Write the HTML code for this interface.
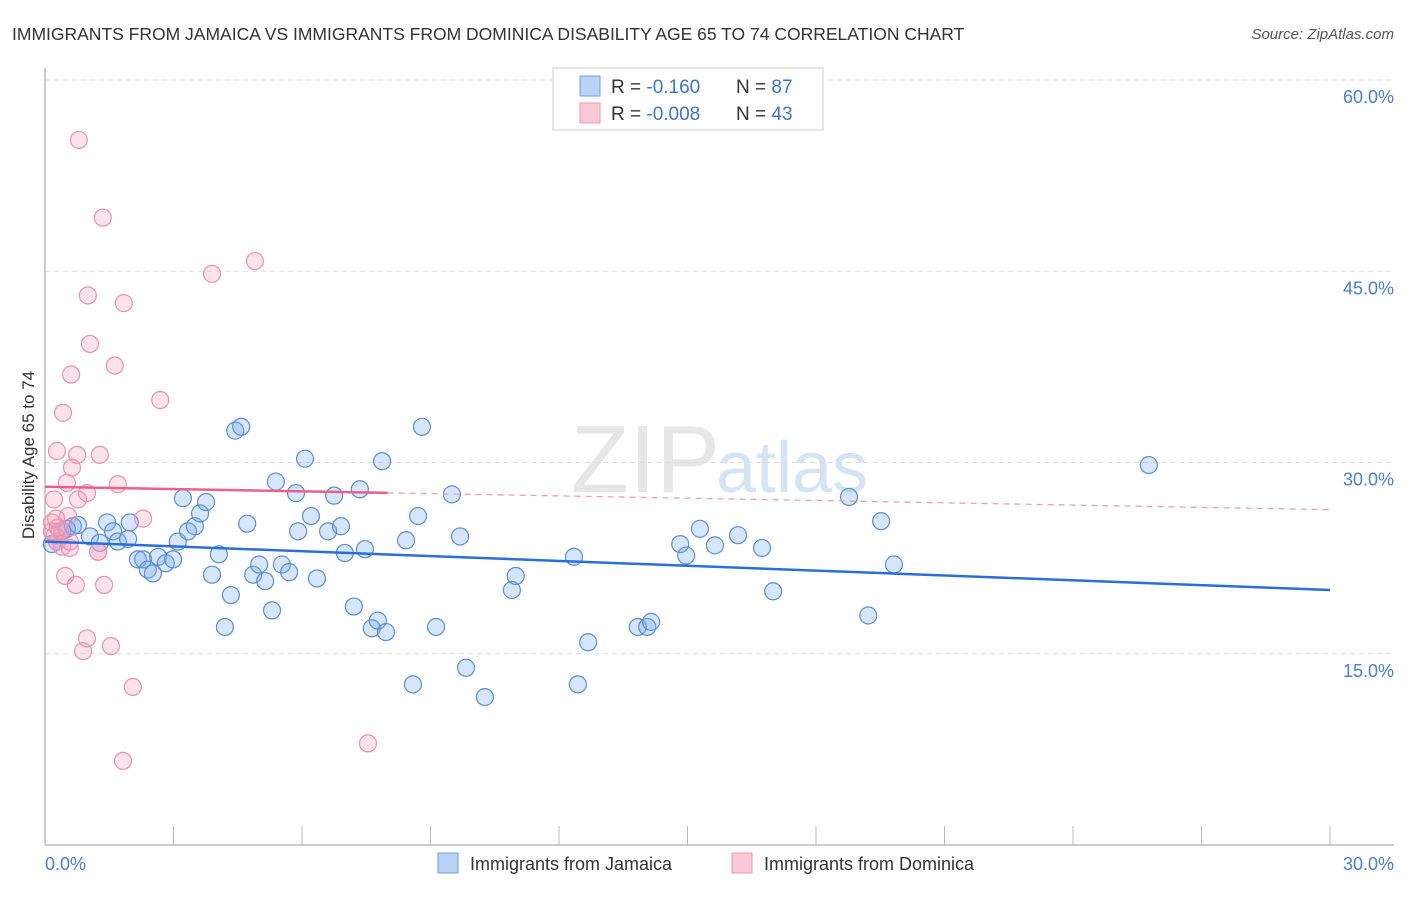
<!DOCTYPE html>
<html><head><meta charset="utf-8"><style>
body{margin:0;background:#fff;font-family:"Liberation Sans",sans-serif;}
svg text{font-family:"Liberation Sans",sans-serif;}
</style></head><body>
<svg id="chart" width="1406" height="892" xmlns="http://www.w3.org/2000/svg">
<text x="12" y="40" font-size="17.5" fill="#333">IMMIGRANTS FROM JAMAICA VS IMMIGRANTS FROM DOMINICA DISABILITY AGE 65 TO 74 CORRELATION CHART</text>
<text x="1394" y="39" font-size="15" fill="#555" font-style="italic" text-anchor="end">Source: ZipAtlas.com</text>
<text x="720" y="492" font-size="96" fill="#e6e6e6" text-anchor="end" font-family="Liberation Serif">ZIP</text>
<text x="716" y="492" font-size="72" fill="#d6e3f3">atlas</text>
<g id="grid"></g>
<line x1="45" y1="68" x2="45" y2="845" stroke="#bbb" stroke-width="1.5"/>
<line x1="45" y1="845" x2="1394" y2="845" stroke="#bbb" stroke-width="1.5"/>
<g id="xticks"></g>
<text transform="translate(34,455) rotate(-90)" font-size="17" fill="#333" text-anchor="middle">Disability Age 65 to 74</text>
<text x="45" y="870" font-size="18" fill="#4a7fd4">0.0%</text>
<text x="1394" y="870" font-size="18" fill="#4a7fd4" text-anchor="end">30.0%</text>
<g id="pts"></g>
<g id="trends"></g>
<g>
<rect x="553" y="68" width="270" height="62" fill="#fff" stroke="#ccc"/>
<rect x="580" y="76" width="20" height="20" fill="#b8d3f5" stroke="#6e9ee0"/>
<rect x="580" y="103" width="20" height="20" fill="#fbc8d8" stroke="#ec9ab5"/>
<text x="611" y="93" font-size="19" fill="#333">R = <tspan fill="#3f73cc"> -0.160</tspan><tspan x="736">N = </tspan><tspan fill="#3f73cc">87</tspan></text>
<text x="611" y="120" font-size="19" fill="#333">R = <tspan fill="#3f73cc">-0.008</tspan><tspan x="736">N = </tspan><tspan fill="#3f73cc">43</tspan></text>
</g>
<g>
<rect x="438" y="853" width="20" height="20" fill="#b8d3f5" stroke="#6e9ee0"/>
<text x="470" y="870" font-size="18" fill="#333">Immigrants from Jamaica</text>
<rect x="732" y="853" width="20" height="20" fill="#fbc8d8" stroke="#ec9ab5"/>
<text x="764" y="870" font-size="18" fill="#333">Immigrants from Dominica</text>
</g>
</svg>
<script>
const yTicks=[15,30,45,60];
const xTickVals=[0,3,6,9,12,15,18,21,24,27,30];
const jamX=[0.16,0.28,0.4,0.51,0.65,0.77,1.05,1.28,1.45,1.59,1.7,1.94,1.98,2.17,2.29,2.4,2.52,2.64,2.82,2.99,3.1,3.22,3.34,3.5,3.62,3.76,3.9,4.06,4.2,4.34,4.44,4.58,4.72,4.86,5.0,5.14,5.3,5.39,5.53,5.7,5.86,5.91,6.07,6.21,6.35,6.61,6.75,6.91,7.0,7.21,7.35,7.47,7.63,7.77,7.87,7.96,8.59,8.71,8.8,8.43,9.13,9.5,9.69,9.83,10.27,10.9,10.99,12.35,12.44,12.68,13.84,14.06,14.15,14.83,14.97,15.29,15.64,16.18,16.74,17.0,18.77,19.22,19.52,19.82,25.77];
const jamY=[23.6,23.8,24.6,24.8,25.0,25.1,24.2,23.7,25.3,24.6,23.8,24.0,25.3,22.4,22.4,21.6,21.3,22.6,22.1,22.4,23.8,27.2,24.6,25.0,26.0,26.9,21.2,22.8,17.1,19.6,32.5,32.8,25.2,21.2,22.0,20.7,18.4,28.5,22.0,21.4,27.6,24.6,30.3,25.8,20.9,24.6,27.4,25.0,22.9,18.7,27.9,23.2,17.0,17.6,30.1,16.7,12.6,25.8,32.8,23.9,17.1,27.5,24.2,13.9,11.6,20.0,21.1,22.6,12.6,15.9,17.1,17.1,17.5,23.6,22.7,24.8,23.5,24.3,23.3,19.9,27.3,18.0,25.4,22.0,29.8];
const domX=[0.79,1.35,3.9,4.9,1.0,1.84,1.05,1.63,0.61,2.69,0.42,0.28,0.75,1.28,0.63,0.51,1.7,0.98,0.77,0.21,2.29,0.54,0.16,0.35,0.28,0.4,0.58,1.24,0.47,0.72,1.38,1.24,0.98,1.54,0.89,2.05,7.54,1.82,0.23,0.16,0.3,0.58,0.26];
const domY=[55.3,49.2,44.8,45.8,43.1,42.5,39.3,37.6,36.9,34.9,33.9,30.9,30.6,30.6,29.6,28.4,28.3,27.6,27.1,27.1,25.6,25.8,25.3,24.6,23.8,23.4,23.3,23.0,21.1,20.4,20.4,23.0,16.2,15.6,15.2,12.4,7.97,6.6,24.3,24.6,24.9,23.8,25.6];
const jamTrend=[23.8,20.0];
const domTrend=[28.1,26.3];
const domSolidEnd=8;
const X=v=>45+v/30*1285, Y=v=>845-v*12.75;
const NS='http://www.w3.org/2000/svg';
function mk(t,a,p){const e=document.createElementNS(NS,t);for(const k in a)e.setAttribute(k,a[k]);p.appendChild(e);return e;}
const grid=document.getElementById('grid');
yTicks.forEach(v=>{
 const l=mk('line',{x1:45,x2:1394,y1:Y(v),y2:Y(v),stroke:'#ddd','stroke-dasharray':'5,4'},grid);
 
 
 const t=mk('text',{x:1394,y:Y(v)+23,'font-size':18,fill:'#4a7fd4','text-anchor':'end'},grid);
 t.textContent=v.toFixed(1)+'%';
 
 
});
const xt=document.getElementById('xticks');
xTickVals.forEach(v=>{
 const l=mk('line',{x1:X(v),x2:X(v),y1:826,y2:845,stroke:'#bbb'},xt);
 
 
});
const pts=document.getElementById('pts');
jamX.forEach((x,i)=>{
 const c=mk('circle',{cx:X(x),cy:Y(jamY[i]),r:8.5,fill:'rgba(120,170,235,0.3)',stroke:'#5a8fd8','stroke-width':1.2},pts);
 
 
});
domX.forEach((x,i)=>{
 const c=mk('circle',{cx:X(x),cy:Y(domY[i]),r:8.5,fill:'rgba(245,160,190,0.3)',stroke:'#ea92b0','stroke-width':1.2},pts);
 
 
});
const tr=document.getElementById('trends');
const jl=mk('line',{x1:X(0),y1:Y(jamTrend[0]),x2:X(30),y2:Y(jamTrend[1]),stroke:'#2a6fd6','stroke-width':2.5},tr);


const dAt=v=>domTrend[0]+(domTrend[1]-domTrend[0])*v/30;
const ds=mk('line',{x1:X(0),y1:Y(dAt(0)),x2:X(domSolidEnd),y2:Y(dAt(domSolidEnd)),stroke:'#e8608c','stroke-width':2.5},tr);


const dd=mk('line',{x1:X(domSolidEnd),y1:Y(dAt(domSolidEnd)),x2:X(30),y2:Y(dAt(30)),stroke:'#e8a0b8','stroke-width':1.3,'stroke-dasharray':'6,5'},tr);


</script>
</body></html>
